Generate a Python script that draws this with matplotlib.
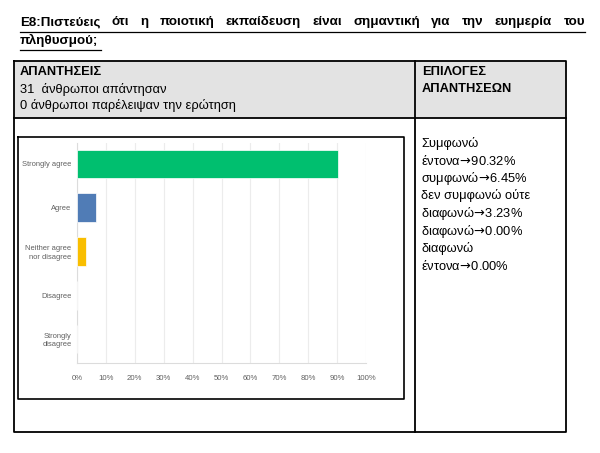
import matplotlib
matplotlib.use('Agg')
import matplotlib.pyplot as plt
import matplotlib.ticker as ticker

plt.rcParams['font.family'] = ['Liberation Sans', 'DejaVu Sans']
plt.rcParams['mathtext.fontset'] = 'dejavusans'

#----------------
#Data

categories = ['Strongly agree', 'Agree', 'Neither agree\nnor disagree', 'Disagree', 'Strongly\ndisagree']
values = [90.32, 6.45, 3.23, 0.0, 0.0]
bar_colors = ['#00bf6f', '#507cb6', '#f9be00', '#d25f90', '#6bc8cd']
xticks = [0, 10, 20, 30, 40, 50, 60, 70, 80, 90, 100]

title_line1 = 'Ε8:Πιστεύεις ότι η ποιοτική εκπαίδευση είναι σημαντική για την ευημερία του'
title_line2 = 'πληθυσμού;'
header_left = ['ΑΠΑΝΤΗΣΕΙΣ', '31  άνθρωποι απάντησαν', '0 άνθρωποι παρέλειψαν την ερώτηση']
header_right = ['ΕΠΙΛΟΓΕΣ', 'ΑΠΑΝΤΗΣΕΩΝ']
arrow = r'$\!\rightarrow\!$'
answer_lines = ['Συμφωνώ', 'έντονα' + arrow + '90.32%', 'συμφωνώ' + arrow + '6.45%', 'δεν συμφωνώ ούτε',
                'διαφωνώ' + arrow + '3.23%', 'διαφωνώ' + arrow + '0.00%', 'διαφωνώ', 'έντονα' + arrow + '0.00%']

W, H = 600, 453
fig = plt.figure(figsize=(W / 100, H / 100), dpi=100)

#----------------
#Page layer in pixel coordinates

page = fig.add_axes([0, 0, 1, 1])
page.set_xlim(0, W)
page.set_ylim(H, 0)
page.axis('off')

renderer = fig.canvas.get_renderer()

def justify(ax, words, x0, x1, y, **kw):
    texts = [ax.text(0, y, w, va='center', ha='left', **kw) for w in words]
    inv = ax.transData.inverted()
    widths = []
    for t in texts:
        bb = t.get_window_extent(renderer)
        p0 = inv.transform((bb.x0, bb.y0))
        p1 = inv.transform((bb.x1, bb.y0))
        widths.append(p1[0] - p0[0])
    gap = (x1 - x0 - sum(widths)) / (len(words) - 1)
    x = x0
    for t, w in zip(texts, widths):
        t.set_x(x)
        x += w + gap

title_kw = dict(fontsize=9.6, fontweight='bold', color='black')
justify(page, title_line1.split(' '), 20, 585, 22, **title_kw)
page.text(20, 40, title_line2, va='center', ha='left', **title_kw)
page.plot([20, 585], [31.5, 31.5], color='black', lw=0.9)
page.plot([20, 101], [49.5, 49.5], color='black', lw=0.9)

# table
page.fill_between([14, 566], 61, 118, color='#e3e3e3', lw=0)
lw = 1.3
page.plot([14, 566, 566, 14, 14], [61, 61, 432, 432, 61], color='black', lw=lw)
page.plot([14, 566], [118, 118], color='black', lw=lw)
page.plot([415, 415], [61, 432], color='black', lw=lw)

txt_kw = dict(fontsize=9.3, va='center', ha='left', color='black')
page.text(20, 72, header_left[0], fontweight='bold', **txt_kw)
page.text(20, 89, header_left[1], **txt_kw)
page.text(20, 106, header_left[2], **txt_kw)
page.text(422, 72, header_right[0], fontweight='bold', **txt_kw)
page.text(422, 89, header_right[1], fontweight='bold', **txt_kw)

for i, line in enumerate(answer_lines):
    page.text(421, 143 + i * 17.6, line, **txt_kw)

# frame of the pasted chart picture
page.plot([18, 404, 404, 18, 18], [137, 137, 399, 399, 137], color='black', lw=1.2)

#----------------
#Bar chart

ax = fig.add_axes([77 / W, (H - 363) / H, (366 - 77) / W, 220 / H])
ypos = list(range(len(categories)))
ax.barh(ypos, values, height=0.66, color=bar_colors, edgecolor='white', linewidth=0.5, zorder=3)
ax.set_xlim(0, 100)
ax.set_ylim(len(categories) - 0.45, -0.48)
ax.set_yticks(ypos)
ax.set_yticklabels(categories, fontsize=5.4, color='#5f5f5f', linespacing=1.3)
ax.set_xticks(xticks)
ax.xaxis.set_major_formatter(ticker.FuncFormatter(lambda v, p: '%d%%' % v))
ax.tick_params(axis='x', labelsize=5.6, labelcolor='#5f5f5f', length=0, pad=9)
ax.tick_params(axis='y', length=0, pad=4)
ax.grid(axis='x', color='#ececec', lw=0.8, zorder=0)
for s in ['top', 'right']:
    ax.spines[s].set_visible(False)
ax.spines['bottom'].set_color('#dcdcdc')
ax.spines['left'].set_color('#dcdcdc')

fig.savefig('out.png', dpi=100)
